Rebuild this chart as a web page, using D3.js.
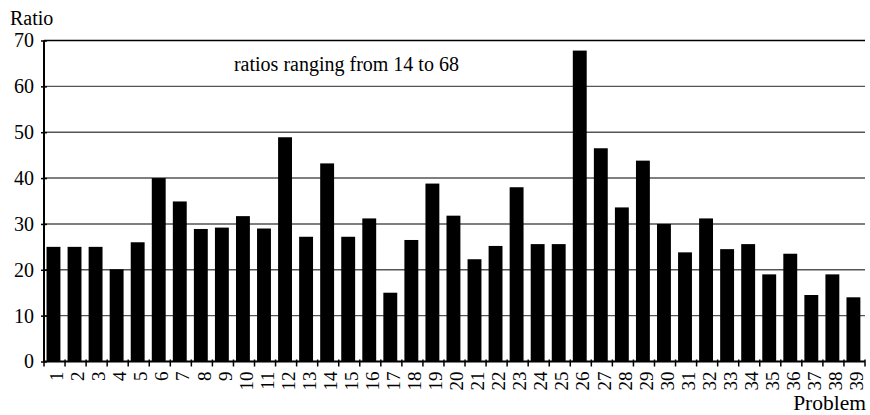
<!DOCTYPE html>
<html>
<head>
<meta charset="utf-8">
<script src="https://cdn.jsdelivr.net/npm/d3@7"></script>
<style>
  body { margin: 0; background: #fff; }
  svg text { font-family: "Liberation Serif", "DejaVu Serif", "Times New Roman", Times, serif; fill: #000; }
  .axis path, .axis line { stroke: #000; }
  .axis text { font-size: 20px; }
  .axis--x text { font-size: 19px; }
</style>
</head>
<body>
<svg id="chart" width="870" height="415"></svg>
<script>
// problem numbers and the ratio for each
var problems = d3.range(1, 40);
var ratios = [25, 25, 25, 20.1, 26, 40, 34.9, 28.9, 29.2, 31.7,
              29, 48.9, 27.2, 43.2, 27.2, 31.2, 15, 26.5, 38.8, 31.8,
              22.3, 25.2, 38, 25.6, 25.6, 67.8, 46.5, 33.6, 43.8, 30,
              23.8, 31.2, 24.5, 25.6, 19, 23.5, 14.5, 19, 14];
var yTicks = [0, 10, 20, 30, 40, 50, 60, 70];
var note = "ratios ranging from 14 to 68";

var ratio_chart = (function(d3) {
    var module = {}
        , svg
        , margin
        , width
        , height
        , g
        , x
        , y
        ;

    module.init = function(_) {
        svg = d3.select(_);
        margin = {top: 40.5, right: 5, bottom: 53.5, left: 44};
        width = svg.attr("width") - margin.left - margin.right;
        height = svg.attr("height") - margin.top - margin.bottom;
        g = svg.append("g").attr("transform", "translate(" + margin.left + "," + margin.top + ")");

        x = d3.scaleBand().domain(problems).range([0, width]).padding(0);
        y = d3.scaleLinear().domain([0, 70]).range([height, 0]);

        // grid lines
        g.append("g")
            .attr("class", "grid")
            .selectAll("line")
            .data(yTicks.filter(function(d) { return d > 0; }))
            .enter().append("line")
            .attr("x1", 0)
            .attr("x2", width)
            .attr("y1", function(d) { return y(d); })
            .attr("y2", function(d) { return y(d); })
            .attr("stroke", function(d) { return d === 70 ? "#000" : "#555"; })
            .attr("stroke-width", 1.4);

        // y axis, ticks crossing the line
        var ya = g.append("g")
            .attr("class", "axis axis--y")
            .call(d3.axisLeft(y).tickValues(yTicks).tickSize(3).tickPadding(7));
        ya.attr("font-family", null);
        ya.select(".domain").attr("stroke-width", 2).attr("d", "M0," + height + "V0");
        ya.selectAll(".tick line").attr("x1", 3).attr("x2", -3).attr("stroke-width", 1.5);

        // x axis, ticks at band edges
        var edges = problems.map(function(d) { return x(d); }).concat([width]);
        var xa = g.append("g")
            .attr("class", "axis axis--x")
            .attr("transform", "translate(0," + height + ")");
        xa.append("line")
            .attr("x1", 0).attr("x2", width)
            .attr("stroke", "#000").attr("stroke-width", 2);
        xa.selectAll("line.edge")
            .data(edges)
            .enter().append("line")
            .attr("class", "edge")
            .attr("x1", function(d) { return d; })
            .attr("x2", function(d) { return d; })
            .attr("y1", -2).attr("y2", 5)
            .attr("stroke", "#000").attr("stroke-width", 1.5);
        xa.selectAll("text")
            .data(problems)
            .enter().append("text")
            .attr("transform", function(d) {
                return "translate(" + (x(d) + x.bandwidth() / 2 + 2) + ",10) rotate(-90)";
            })
            .attr("text-anchor", "end")
            .attr("dy", "0.35em")
            .text(function(d) { return d; });

        svg.append("text")
            .attr("x", 10).attr("y", 25)
            .attr("font-size", 20)
            .text("Ratio");

        svg.append("text")
            .attr("x", 866).attr("y", 410)
            .attr("text-anchor", "end")
            .attr("font-size", 21.5)
            .text("Problem");

        g.append("text")
            .attr("x", x(10) + 0.5).attr("y", 71 - margin.top)
            .attr("font-size", 20)
            .text(note);
    };

    module.draw = function() {
        var bw = x.bandwidth() * 0.66;
        g.append("g")
            .attr("class", "bars")
            .selectAll("rect")
            .data(problems)
            .enter().append("rect")
            .attr("x", function(d) { return x(d) + x.bandwidth() * 0.12; })
            .attr("width", bw)
            .attr("y", function(d, i) { return y(ratios[i]); })
            .attr("height", function(d, i) { return height - y(ratios[i]); })
            .attr("fill", "#000");
    };

    return module;
})(d3);

ratio_chart.init("#chart");
ratio_chart.draw();
</script>
</body>
</html>
